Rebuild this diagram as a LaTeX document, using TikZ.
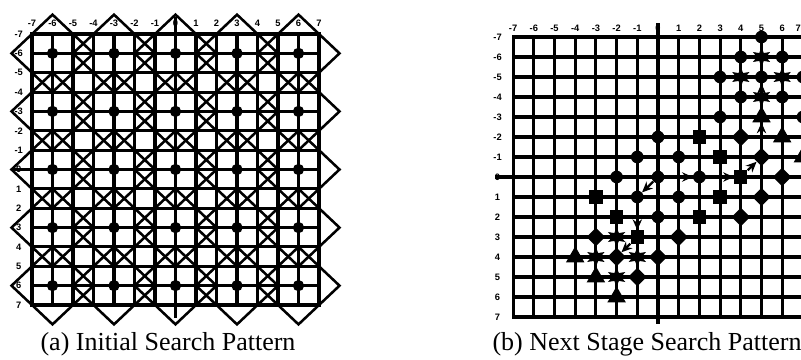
\documentclass[tikz,border=0pt]{standalone}
\usepackage{fontspec}
\setmainfont{Liberation Serif}
\newfontfamily\axisfont{Liberation Sans}
\usetikzlibrary{arrows.meta,shapes.geometric}
\tikzset{
  gridline/.style={line width=2.3pt,line cap=rect},
  diamline/.style={line width=1.9pt,line join=miter},
  axlabel/.style={font=\axisfont\bfseries\fontsize{7}{7}\selectfont,inner sep=0pt},
  griddot/.style={circle,fill=black,minimum size=8.5pt,inner sep=0pt},
  m-dot/.style={circle,fill=black,minimum size=9.5pt,inner sep=0pt},
  m-sq/.style={rectangle,fill=black,minimum size=10pt,inner sep=0pt},
  m-dia/.style={diamond,fill=black,minimum size=14pt,inner sep=0pt},
  m-tri/.style={regular polygon,regular polygon sides=3,fill=black,minimum size=16pt,inner sep=0pt},
  m-star/.style={star,star points=6,star point ratio=2.2,fill=black,minimum size=15pt,inner sep=0pt},
  move/.style={-{Stealth[length=8pt,width=7pt]},line width=1.7pt},
  caption/.style={font=\fontsize{19.5}{19.5}\selectfont,anchor=base,inner sep=0pt},
}
\begin{document}
\begin{tikzpicture}[x=0.75pt,y=-0.75pt]
  \useasboundingbox (0,0) rectangle (801,360);

  % (a) initial search pattern
  \begin{scope}[shift={(175.5,169.5)},x=15.375pt,y=-14.52pt]
    \foreach \k in {-7,...,7} {
      \draw[gridline] (\k,-7) -- (\k,7);
      \draw[gridline] (-7,\k) -- (7,\k);
    }
    \draw[gridline] (0,-7.8) -- (0,7.6);
    \draw[gridline] (-7.9,0) -- (7,0);
    \foreach \cx in {-6,-3,0,3,6}
      \foreach \cy in {-6,-3,0,3,6}
        \draw[diamline] ({\cx-2},\cy) -- (\cx,{\cy-2}) -- ({\cx+2},\cy) -- (\cx,{\cy+2}) -- cycle;
    \foreach \cx [count=\i] in {-6,-3,0,3,6}
      \foreach \cy [count=\j] in {-6,-3,0,3,6}
        \node[griddot] (p\i\j) at (\cx,\cy) {};
    \foreach \k [count=\i] in {-7,...,7} {
      \node[axlabel] (ta\i) at (\k,-7.57) {\k};
      \node[axlabel] (la\i) at (-7.65,\k) {\k};
    }
  \end{scope}

  % (b) next stage search pattern
  \begin{scope}[shift={(658,177)},x=15.525pt,y=-15pt]
    \foreach \k in {-7,...,7} {
      \draw[gridline] (\k,-7) -- (\k,7);
      \draw[gridline] (-7,\k) -- (7,\k);
    }
    \draw[gridline] (0,-7.6) -- (0,7.25);
    \draw[gridline] (-7.8,0) -- (7,0);
    \foreach \k [count=\i] in {-7,...,6}
      \node[axlabel] (tb\i) at (\k,-7.45) {\k};
    \node[axlabel,anchor=east] (tb15) at (6.91,-7.45) {7};
    \foreach \k [count=\i] in {-7,...,7}
      \node[axlabel] (lb\i) at (-7.75,\k) {\k};

    % first step: circles
    \node[m-dot] (c0) at (0,0) {};
    \node[m-dot] (c1) at (0,-2) {};
    \node[m-dot] (c2) at (-1,-1) {};
    \node[m-dot] (c3) at (1,-1) {};
    \node[m-dot] (c4) at (-2,0) {};
    \node[m-dot] (c5) at (2,0) {};
    \node[m-dot] (c6) at (-1,1) {};
    \node[m-dot] (c7) at (1,1) {};
    \node[m-dot] (c8) at (0,2) {};

    % second step: squares
    \node[m-sq] (s1) at (-3,1) {};
    \node[m-sq] (s2) at (-2,2) {};
    \node[m-sq] (s3) at (-1,3) {};
    \node[m-sq] (s4) at (2,-2) {};
    \node[m-sq] (s5) at (3,-1) {};
    \node[m-sq] (s6) at (4,0) {};
    \node[m-sq] (s7) at (3,1) {};
    \node[m-sq] (s8) at (2,2) {};

    % third step: diamonds
    \node[m-dia] (d1) at (-3,3) {};
    \node[m-dia] (d2) at (1,3) {};
    \node[m-dia] (d3) at (-2,4) {};
    \node[m-dia] (d4) at (0,4) {};
    \node[m-dia] (d5) at (-1,5) {};
    \node[m-dia] (d6) at (4,-2) {};
    \node[m-dia] (d7) at (5,-1) {};
    \node[m-dia] (d8) at (6,0) {};
    \node[m-dia] (d9) at (5,1) {};
    \node[m-dia] (d10) at (4,2) {};

    % fourth step: triangles
    \node[m-tri] (t1) at (-4,4) {};
    \node[m-tri] (t2) at (-3,5) {};
    \node[m-tri] (t3) at (-2,6) {};
    \node[m-tri] (t4) at (5,-3) {};
    \node[m-tri] (t5) at (6,-2) {};
    \node[m-tri] (t6) at (7,-1) {};

    % later steps, upper right
    \node[m-dot] (e1) at (5,-5) {};
    \node[m-dot] (e2) at (4,-4) {};
    \node[m-dot] (e3) at (6,-4) {};
    \node[m-dot] (e4) at (3,-3) {};
    \node[m-dot] (e5) at (7,-3) {};
    \node[m-dot] (f1) at (5,-7) {};
    \node[m-dot] (f2) at (4,-6) {};
    \node[m-dot] (f3) at (6,-6) {};
    \node[m-dot] (f4) at (3,-5) {};
    \node[m-dot] (f5) at (7,-5) {};

    % final small diamond: stars
    \node[m-star] (a1) at (-2,3) {};
    \node[m-star] (a2) at (-3,4) {};
    \node[m-star] (a3) at (-1,4) {};
    \node[m-star] (a4) at (-2,5) {};
    \node[m-star] (a5) at (5,-6) {};
    \node[m-star] (a6) at (4,-5) {};
    \node[m-star] (a7) at (6,-5) {};
    \node[m-star] (a8) at (5,-4) {};

    % search path
    \draw[move] (c0) -- (c6);
    \draw[move] (c6) -- (s3);
    \draw[move] (s3) -- (d3);
    \draw[move] (c0) -- (c5);
    \draw[move] (c5) -- (s6);
    \draw[move] (s6) -- (d7);
    \draw[move] (d7) -- (t4);
    \draw[move] (t4) -- (e1);
  \end{scope}

  \node[caption] (capa) at (168,350) {(a) Initial Search Pattern};
  \node[caption] (capb) at (647,350) {(b) Next Stage Search Pattern};
\end{tikzpicture}
\end{document}
